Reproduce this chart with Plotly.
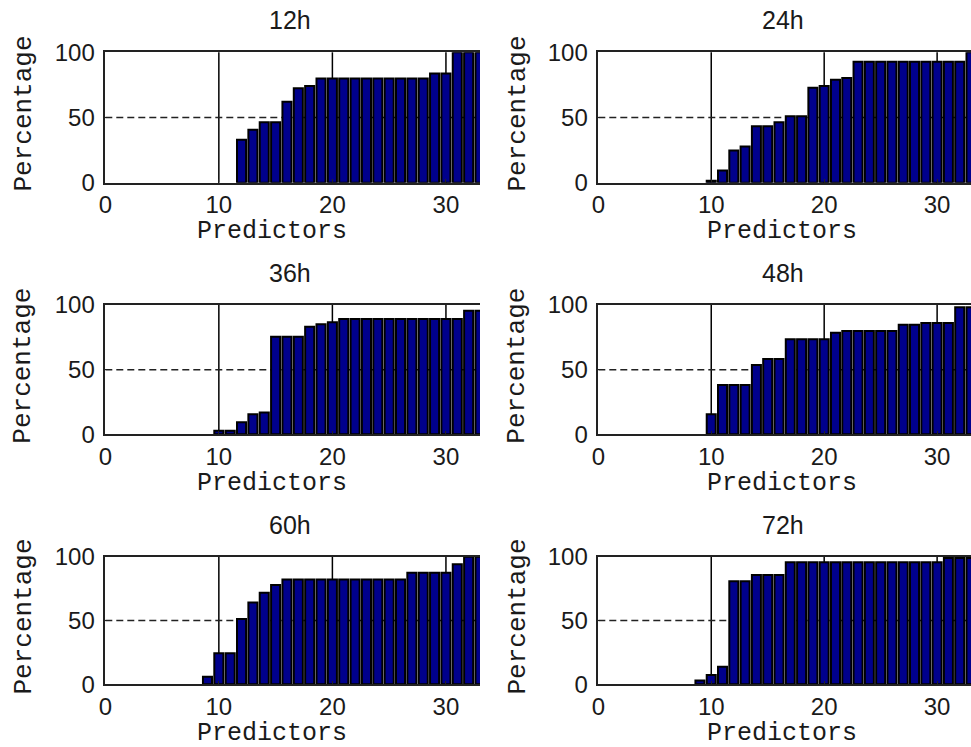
import plotly.graph_objects as go

# Number of predictors (x positions of the bars)
predictors = list(range(1, 34))

# Percentage per number of predictors, one list per forecast horizon
h12 = [None] * 11 + [33.0, 40.7, 46.4, 46.4, 62.0, 72.4, 74.2,
                     80.0, 80.0, 80.0, 80.0, 80.0, 80.0, 80.0, 80.0, 80.0, 80.0,
                     83.8, 83.8, 100.0, 100.0, 100.0]
h24 = [None] * 9 + [1.5, 9.3, 24.7, 27.8, 43.3, 43.3, 46.4, 51.0, 51.0,
                    72.9, 74.2, 78.9, 80.2,
                    92.8, 92.8, 92.8, 92.8, 92.8, 92.8, 92.8, 92.8, 92.8, 92.8,
                    100.0]
h36 = [None] * 9 + [2.8, 2.8, 9.3, 15.5, 16.8, 75.5, 75.5, 75.5, 83.2, 85.1, 86.6,
                    89.2, 89.2, 89.2, 89.2, 89.2, 89.2, 89.2, 89.2, 89.2, 89.2, 89.2,
                    95.6, 95.6]
h48 = [None] * 9 + [15.5, 38.1, 38.1, 38.1, 53.6, 58.2, 58.2,
                    73.5, 73.5, 73.5, 73.5, 78.6,
                    79.9, 79.9, 79.9, 79.9, 79.9, 84.8, 84.8,
                    86.1, 86.1, 86.1, 98.2, 98.2]
h60 = [None] * 8 + [6.0, 24.3, 24.3, 51.2, 64.2, 71.8, 77.8,
                    82.2, 82.2, 82.2, 82.2, 82.2, 82.2, 82.2, 82.2, 82.2, 82.2, 82.2,
                    87.5, 87.5, 87.5, 87.5, 94.0, 100.0, 100.0]
h72 = [None] * 8 + [2.9, 7.3, 13.8, 80.8, 80.8, 85.7, 85.7, 85.7,
                    95.6, 95.6, 95.6, 95.6, 95.6, 95.6, 95.6, 95.6, 95.6, 95.6,
                    95.6, 95.6, 95.6, 95.6, 99.0, 99.0, 99.0]

titles = ["12h", "24h", "36h", "48h", "60h", "72h"]
series = [h12, h24, h36, h48, h60, h72]

x_ticks = [0, 10, 20, 30]
y_ticks = [0, 50, 100]
ref_lines_x = [10, 20, 30]
threshold = 50

W, H = 971, 747
BAR_COLOR = "rgb(0,0,140)"
AXIS_COLOR = "#222222"
TEXT_COLOR = "#1a1a1a"
SANS = "Liberation Sans, Arial, sans-serif"
MONO = "Courier New, Liberation Mono, monospace"

# Panel geometry in pixels: (left, right) per column, (top, bottom) per row
cols_px = [(105.3, 480.0), (598.3, 971.0)]
rows_px = [(52.3, 182.7), (305.0, 434.3), (556.7, 684.3)]
title_x_px = [290, 783]
xlabel_x_px = [272, 782]
ylabel_x_px = [23, 517]


def px_x(p):
    return p / W


def px_y(p):
    return 1 - p / H


fig = go.Figure()
layout = dict(
    width=W, height=H,
    margin=dict(l=0, r=0, t=0, b=0, autoexpand=False),
    paper_bgcolor="white",
    plot_bgcolor="white",
    showlegend=False,
    bargap=0.2,
)
shapes = []
annotations = []

for i, (name, vals) in enumerate(zip(titles, series)):
    r, c = divmod(i, 2)
    k = i + 1
    xa = "x" if k == 1 else f"x{k}"
    ya = "y" if k == 1 else f"y{k}"
    (left, right), (top, bottom) = cols_px[c], rows_px[r]

    fig.add_trace(go.Bar(
        x=predictors, y=vals, width=0.8,
        marker=dict(color=BAR_COLOR, line=dict(color="black", width=2)),
        xaxis=xa, yaxis=ya,
    ))

    layout["xaxis" if k == 1 else f"xaxis{k}"] = dict(
        domain=[px_x(left), px_x(right)], anchor=ya,
        range=[0, 33], tickvals=x_ticks, ticktext=[str(t) for t in x_ticks],
        showgrid=False, zeroline=False, automargin=False,
        showline=True, linecolor=AXIS_COLOR, linewidth=1.5, mirror=True,
        ticks="inside", ticklen=4, tickcolor=AXIS_COLOR,
        ticklabelstandoff=0,
        tickfont=dict(family=SANS, size=24, color=TEXT_COLOR),
        fixedrange=True,
    )
    layout["yaxis" if k == 1 else f"yaxis{k}"] = dict(
        domain=[px_y(bottom), px_y(top)], anchor=xa,
        range=[0, 100], tickvals=y_ticks, ticktext=[str(t) for t in y_ticks],
        showgrid=False, zeroline=False, automargin=False,
        showline=True, linecolor=AXIS_COLOR, linewidth=1.5,
        ticks="inside", ticklen=4, tickcolor=AXIS_COLOR,
        ticklabelstandoff=4,
        tickfont=dict(family=SANS, size=24, color=TEXT_COLOR),
        fixedrange=True,
    )

    # reference lines drawn behind the bars
    for xv in ref_lines_x:
        shapes.append(dict(type="line", xref=xa, yref=f"{ya} domain",
                           x0=xv, x1=xv, y0=0, y1=1, layer="below",
                           line=dict(color="black", width=1.5)))
    shapes.append(dict(type="line", xref=xa, yref=ya,
                       x0=0, x1=33, y0=threshold, y1=threshold, layer="below",
                       line=dict(color="#222222", width=1.5, dash="7px,4px")))

    # panel title, x label and y label
    annotations.append(dict(text=name, xref="paper", yref="paper",
                            x=px_x(title_x_px[c]), y=px_y(top - 32),
                            xanchor="center", yanchor="middle", showarrow=False,
                            font=dict(family=SANS, size=25, color=TEXT_COLOR)))
    annotations.append(dict(text="Predictors", xref="paper", yref="paper",
                            x=px_x(xlabel_x_px[c]), y=px_y(bottom + 49),
                            xanchor="center", yanchor="middle", showarrow=False,
                            borderpad=0,
                            font=dict(family=MONO, size=25, color=TEXT_COLOR)))
    annotations.append(dict(text="Percentage", xref="paper", yref="paper",
                            x=px_x(ylabel_x_px[c]), y=px_y((top + bottom) / 2 - 4),
                            xanchor="center", yanchor="middle", showarrow=False,
                            textangle=-90,
                            font=dict(family=MONO, size=26, color=TEXT_COLOR)))

layout["shapes"] = shapes
layout["annotations"] = annotations
fig.update_layout(**layout)
fig.write_html("out.html")
